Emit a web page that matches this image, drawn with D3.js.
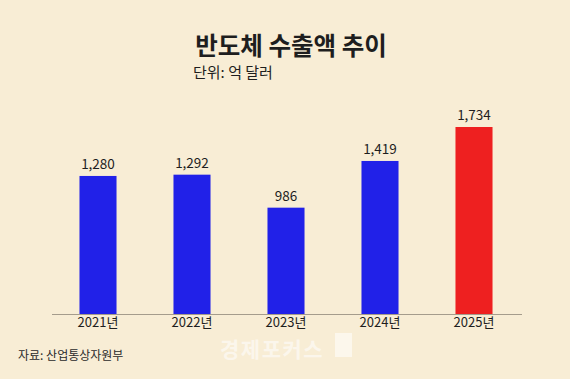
<!DOCTYPE html>
<html>
<head>
<meta charset="utf-8">
<script src="https://cdn.jsdelivr.net/npm/d3@7"></script>
<style>
  html, body { margin: 0; padding: 0; background: #f8edd5; }
  svg { display: block; }
</style>
</head>
<body>
<div class="box"></div>
<script>
const years = ["2021년", "2022년", "2023년", "2024년", "2025년"]
const values = [1280, 1292, 986, 1419, 1734]
const colors = ["#2121e8", "#2121e8", "#2121e8", "#2121e8", "#ee2020"]

let ww = 570
let hh = 379
let font = "'Noto Sans CJK KR', 'Noto Sans', sans-serif"

let svg = d3.select('.box')
  .append("svg")
  .attr("width", ww)
  .attr("height", hh)

svg.append("rect")
  .attr("width", ww)
  .attr("height", hh)
  .style("fill", "#f8edd5")

// title
svg.append("text")
  .attr("x", 291)
  .attr("y", 55)
  .attr("text-anchor", "middle")
  .style("font-family", font)
  .style("font-size", "24.5px")
  .style("font-weight", 700)
  .style("fill", "#1e1e1e")
  .text("반도체 수출액 추이")

svg.append("text")
  .attr("x", 193)
  .attr("y", 78)
  .style("font-family", font)
  .style("font-size", "15px")
  .style("fill", "#1e1e1e")
  .text("단위: 억 달러")

// scales
let x = d3.scaleBand()
  .domain(years)
  .range([51, 521])
  .paddingInner(0.606)
  .paddingOuter(0.303)

let y = d3.scaleLinear()
  .domain([0, 1734])
  .range([314, 127])

svg.selectAll(".bar")
  .data(values)
  .enter()
  .append("rect")
  .attr("class", "bar")
  .attr("x", (d, i) => x(years[i]))
  .attr("y", d => y(d))
  .attr("width", x.bandwidth())
  .attr("height", d => y(0) - y(d))
  .style("fill", (d, i) => colors[i])

svg.selectAll(".val")
  .data(values)
  .enter()
  .append("text")
  .attr("class", "val")
  .attr("x", (d, i) => x(years[i]) + x.bandwidth() / 2)
  .attr("y", d => y(d) - 7)
  .attr("text-anchor", "middle")
  .style("font-family", font)
  .style("font-size", "13.5px")
  .style("fill", "#1e1e1e")
  .text(d => d3.format(",")(d))

// x axis
let xAxis = svg.append("g")
  .attr("transform", `translate(0,${y(0)})`)
  .call(d3.axisBottom(x).tickSize(0).tickPadding(4))

xAxis.select(".domain")
  .attr("d", `M52,0.5H522`)
  .style("stroke", "#a59c8c")
  .style("stroke-width", 1)

xAxis.selectAll("text")
  .style("font-family", font)
  .style("font-size", "13px")
  .style("fill", "#1e1e1e")

// source
svg.append("text")
  .attr("x", 18)
  .attr("y", 360)
  .style("font-family", font)
  .style("font-size", "12px")
  .style("fill", "#2a2a2a")
  .text("자료: 산업통상자원부")

// watermark
svg.append("text")
  .attr("x", 220)
  .attr("y", 357)
  .style("font-family", font)
  .style("font-size", "21px")
  .style("font-weight", 700)
  .style("letter-spacing", "1.5px")
  .style("fill", "#ffffff")
  .style("opacity", 0.55)
  .text("경제포커스")

svg.append("rect")
  .attr("x", 335)
  .attr("y", 333)
  .attr("width", 17)
  .attr("height", 24)
  .style("fill", "#ffffff")
  .style("opacity", 0.55)
</script>
</body>
</html>
